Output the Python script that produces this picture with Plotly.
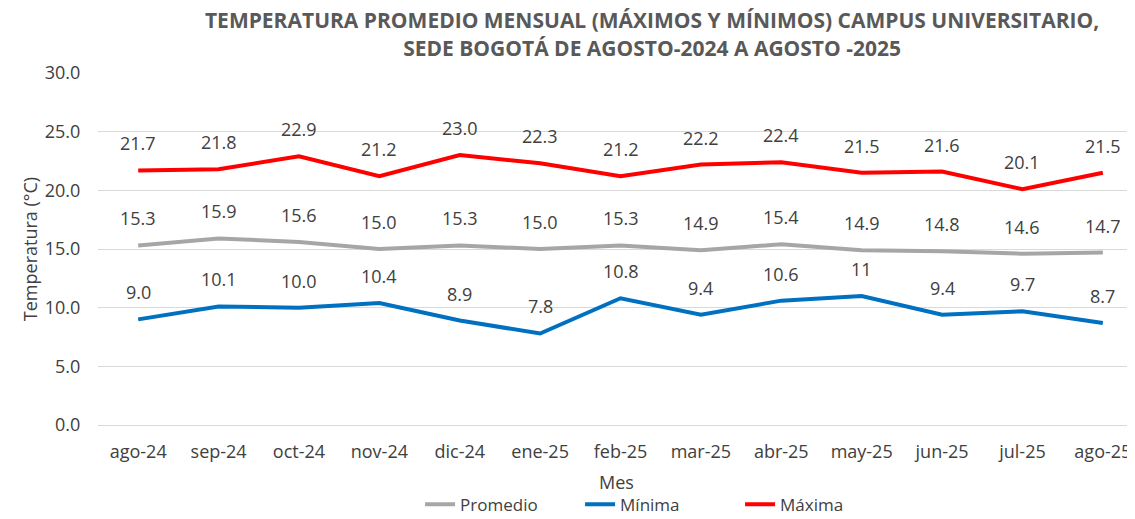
import plotly.graph_objects as go

MONTHS = ["ago-24", "sep-24", "oct-24", "nov-24", "dic-24", "ene-25", "feb-25",
          "mar-25", "abr-25", "may-25", "jun-25", "jul-25", "ago-25"]

PROMEDIO = [15.3, 15.9, 15.6, 15.0, 15.3, 15.0, 15.3, 14.9, 15.4, 14.9, 14.8, 14.6, 14.7]
MINIMA = [9.0, 10.1, 10.0, 10.4, 8.9, 7.8, 10.8, 9.4, 10.6, 11.0, 9.4, 9.7, 8.7]
MAXIMA = [21.7, 21.8, 22.9, 21.2, 23.0, 22.3, 21.2, 22.2, 22.4, 21.5, 21.6, 20.1, 21.5]

# as printed on the chart (May minimum is shown as "11")
MINIMA_LABELS = ["9.0", "10.1", "10.0", "10.4", "8.9", "7.8", "10.8", "9.4", "10.6", "11", "9.4", "9.7", "8.7"]

FONT = "Open Sans, Noto Sans, sans-serif"
TXT = "#404040"

series = [
    ("Promedio", PROMEDIO, [f"{v:.1f}" for v in PROMEDIO], "#A6A6A6"),
    ("Mínima", MINIMA, MINIMA_LABELS, "#0070C0"),
    ("Máxima", MAXIMA, [f"{v:.1f}" for v in MAXIMA], "#FF0000"),
]

fig = go.Figure()
annot = []
for name, vals, labels, color in series:
    fig.add_trace(go.Scatter(
        x=MONTHS, y=vals, name=name, mode="lines",
        line=dict(color=color, width=4),
    ))
    for m, v, t in zip(MONTHS, vals, labels):
        annot.append(dict(x=m, y=v, text=t, showarrow=False, yshift=27,
                          xanchor="center", yanchor="middle",
                          font=dict(size=18, color=TXT, family=FONT)))

# x axis title as an annotation (axis title standoff gets capped)
annot.append(dict(text="Mes", xref="paper", yref="paper", x=0.5, y=0, yshift=-57,
                  xanchor="center", yanchor="middle", showarrow=False,
                  font=dict(size=18, color=TXT, family=FONT)))

# the page body adds an 8px offset, so the figure is 8px smaller than the window
fig.update_layout(
    width=1127, height=511,
    margin=dict(l=90, r=0, t=65, b=94, autoexpand=False),
    plot_bgcolor="white", paper_bgcolor="white",
    font=dict(family=FONT, color=TXT),
    title=dict(
        text="<b>TEMPERATURA PROMEDIO MENSUAL (MÁXIMOS Y MÍNIMOS) CAMPUS UNIVERSITARIO,<br>SEDE BOGOTÁ DE AGOSTO-2024 A AGOSTO -2025</b>",
        x=0.5715, xanchor="center", y=0.96, yanchor="top",
        font=dict(size=21, color="#595959", family=FONT),
    ),
    legend=dict(orientation="h", x=0.542, xanchor="center", yref="container", y=0.028, yanchor="middle",
                font=dict(size=17, color=TXT), entrywidth=115, tracegroupgap=0),
    annotations=annot,
)
fig.update_xaxes(
    type="category", range=[-0.5, 12.4], showgrid=False, showline=False,
    tickfont=dict(size=18, color=TXT), ticks="outside", ticklen=10, tickcolor="white",
)
fig.update_yaxes(
    range=[0, 30], dtick=5, tickformat=".1f", showgrid=True, gridcolor="#D9D9D9",
    zeroline=True, zerolinecolor="#D9D9D9", zerolinewidth=1,
    tickfont=dict(size=18, color=TXT), ticks="outside", ticklen=13, tickcolor="white",
    title=dict(text="Temperatura (°C)", font=dict(size=18, color=TXT), standoff=2),
)

fig.write_html("out.html")
